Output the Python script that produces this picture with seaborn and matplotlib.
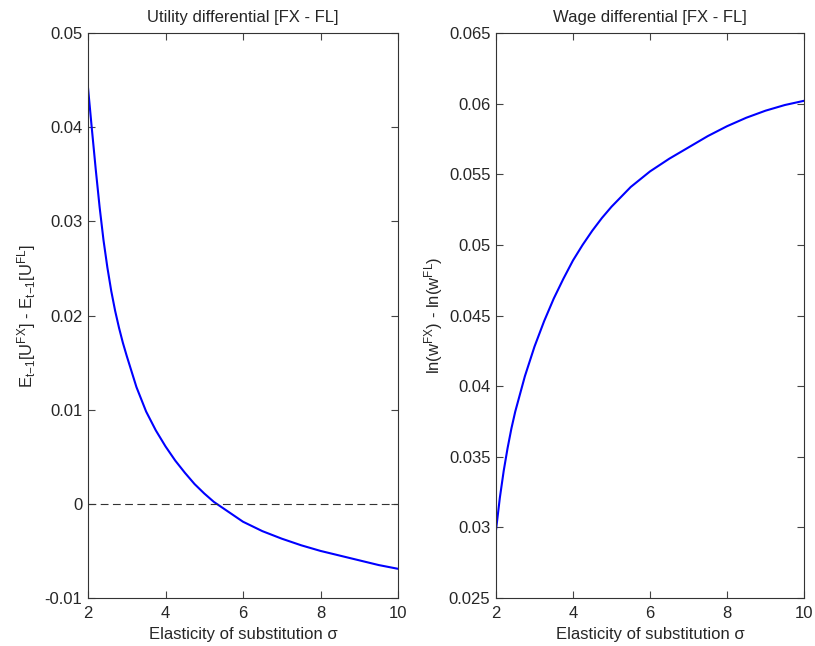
import matplotlib
matplotlib.use("Agg")
import matplotlib.pyplot as plt
import seaborn as sns
import pandas as pd

# Left panel: utility differential
sigma_u = [2.0, 2.05, 2.1, 2.2, 2.3, 2.4, 2.5, 2.6, 2.7, 2.8, 2.9, 3.0, 3.25, 3.5, 3.75, 4.0, 4.25,
           4.5, 4.75, 5.0, 5.25, 5.5, 6.0, 6.5, 7.0, 7.5, 8.0, 8.5, 9.0, 9.5, 10.0]
util_diff = [0.0442, 0.0420, 0.0398, 0.0355, 0.0315, 0.0280, 0.0251, 0.0226, 0.0205, 0.0187, 0.0171,
             0.0157, 0.0124, 0.0098, 0.0078, 0.0061, 0.0046, 0.0033, 0.0021, 0.0011, 0.0002,
             -0.0005, -0.0019, -0.0029, -0.0037, -0.0044, -0.0050, -0.0055, -0.0060,
             -0.0065, -0.0069]

# Right panel: wage differential
sigma_w = [2.0, 2.1, 2.2, 2.3, 2.4, 2.5, 2.75, 3.0, 3.25, 3.5, 3.75, 4.0, 4.25, 4.5, 4.75,
           5.0, 5.5, 6.0, 6.5, 7.0, 7.5, 8.0, 8.5, 9.0, 9.5, 10.0]
wage_diff = [0.0298, 0.0321, 0.0340, 0.0356, 0.0370, 0.0382, 0.0407, 0.0428, 0.0446, 0.0462,
             0.0476, 0.0489, 0.0500, 0.0510, 0.0519, 0.0527, 0.0541, 0.0552, 0.0561, 0.0569,
             0.0577, 0.0584, 0.0590, 0.0595, 0.0599, 0.0602]

xticks = [2, 4, 6, 8, 10]
yticks_u = [-0.01, 0, 0.01, 0.02, 0.03, 0.04, 0.05]
yticks_w = [0.025, 0.03, 0.035, 0.04, 0.045, 0.05, 0.055, 0.06, 0.065]
ytl_u = ["-0.01", "0", "0.01", "0.02", "0.03", "0.04", "0.05"]
ytl_w = ["0.025", "0.03", "0.035", "0.04", "0.045", "0.05", "0.055", "0.06", "0.065"]

sns.set_style("white")
plt.rcParams["font.family"] = ["Liberation Sans", "DejaVu Sans"]
plt.rcParams["mathtext.fontset"] = "custom"
plt.rcParams["mathtext.rm"] = "Liberation Sans"
plt.rcParams["mathtext.it"] = "Liberation Sans"

fig = plt.figure(figsize=(8.15, 6.46), dpi=100)
ax1 = fig.add_axes([88/815, 48/646, 310/815, 565/646])
ax2 = fig.add_axes([496/815, 48/646, 308/815, 565/646])

df_u = pd.DataFrame({"sigma": sigma_u, "val": util_diff})
df_w = pd.DataFrame({"sigma": sigma_w, "val": wage_diff})

sns.lineplot(data=df_u, x="sigma", y="val", ax=ax1, color="#0000ff", linewidth=1.5)
ax1.axhline(0, color="#333333", linestyle=(0, (7, 4)), linewidth=0.8)
sns.lineplot(data=df_w, x="sigma", y="val", ax=ax2, color="#0000ff", linewidth=1.5)

fs = 12
for ax, yt, ytl in [(ax1, yticks_u, ytl_u), (ax2, yticks_w, ytl_w)]:
    ax.set_xlim(2, 10)
    ax.set_ylim(yt[0], yt[-1])
    ax.set_xticks(xticks)
    ax.set_xticklabels([str(t) for t in xticks], fontsize=fs)
    ax.set_yticks(yt)
    ax.set_yticklabels(ytl, fontsize=fs)
    ax.tick_params(direction="in", length=5, width=0.8, color="#444444",
                   top=True, right=True, bottom=True, left=True, pad=4)
    ax.tick_params(axis="x", pad=6)
    for s in ax.spines.values():
        s.set_color("#333333")
        s.set_linewidth(0.8)
        s.set_visible(True)
    ax.set_xlabel("Elasticity of substitution σ", fontsize=fs, labelpad=4)

ax1.set_title("Utility differential [FX - FL]", fontsize=fs, pad=8)
ax2.set_title("Wage differential [FX - FL]", fontsize=fs, pad=8)
ax1.set_ylabel(r"E$_{\mathrm{t{-}1}}$[U$^{\mathrm{FX}}$] - E$_{\mathrm{t{-}1}}$[U$^{\mathrm{FL}}$]",
               fontsize=fs, labelpad=5)
ax2.set_ylabel(r"ln(w$^{\mathrm{FX}}$) - ln(w$^{\mathrm{FL}}$)", fontsize=fs, labelpad=3)

fig.savefig("out.png", dpi=100, facecolor="white")
